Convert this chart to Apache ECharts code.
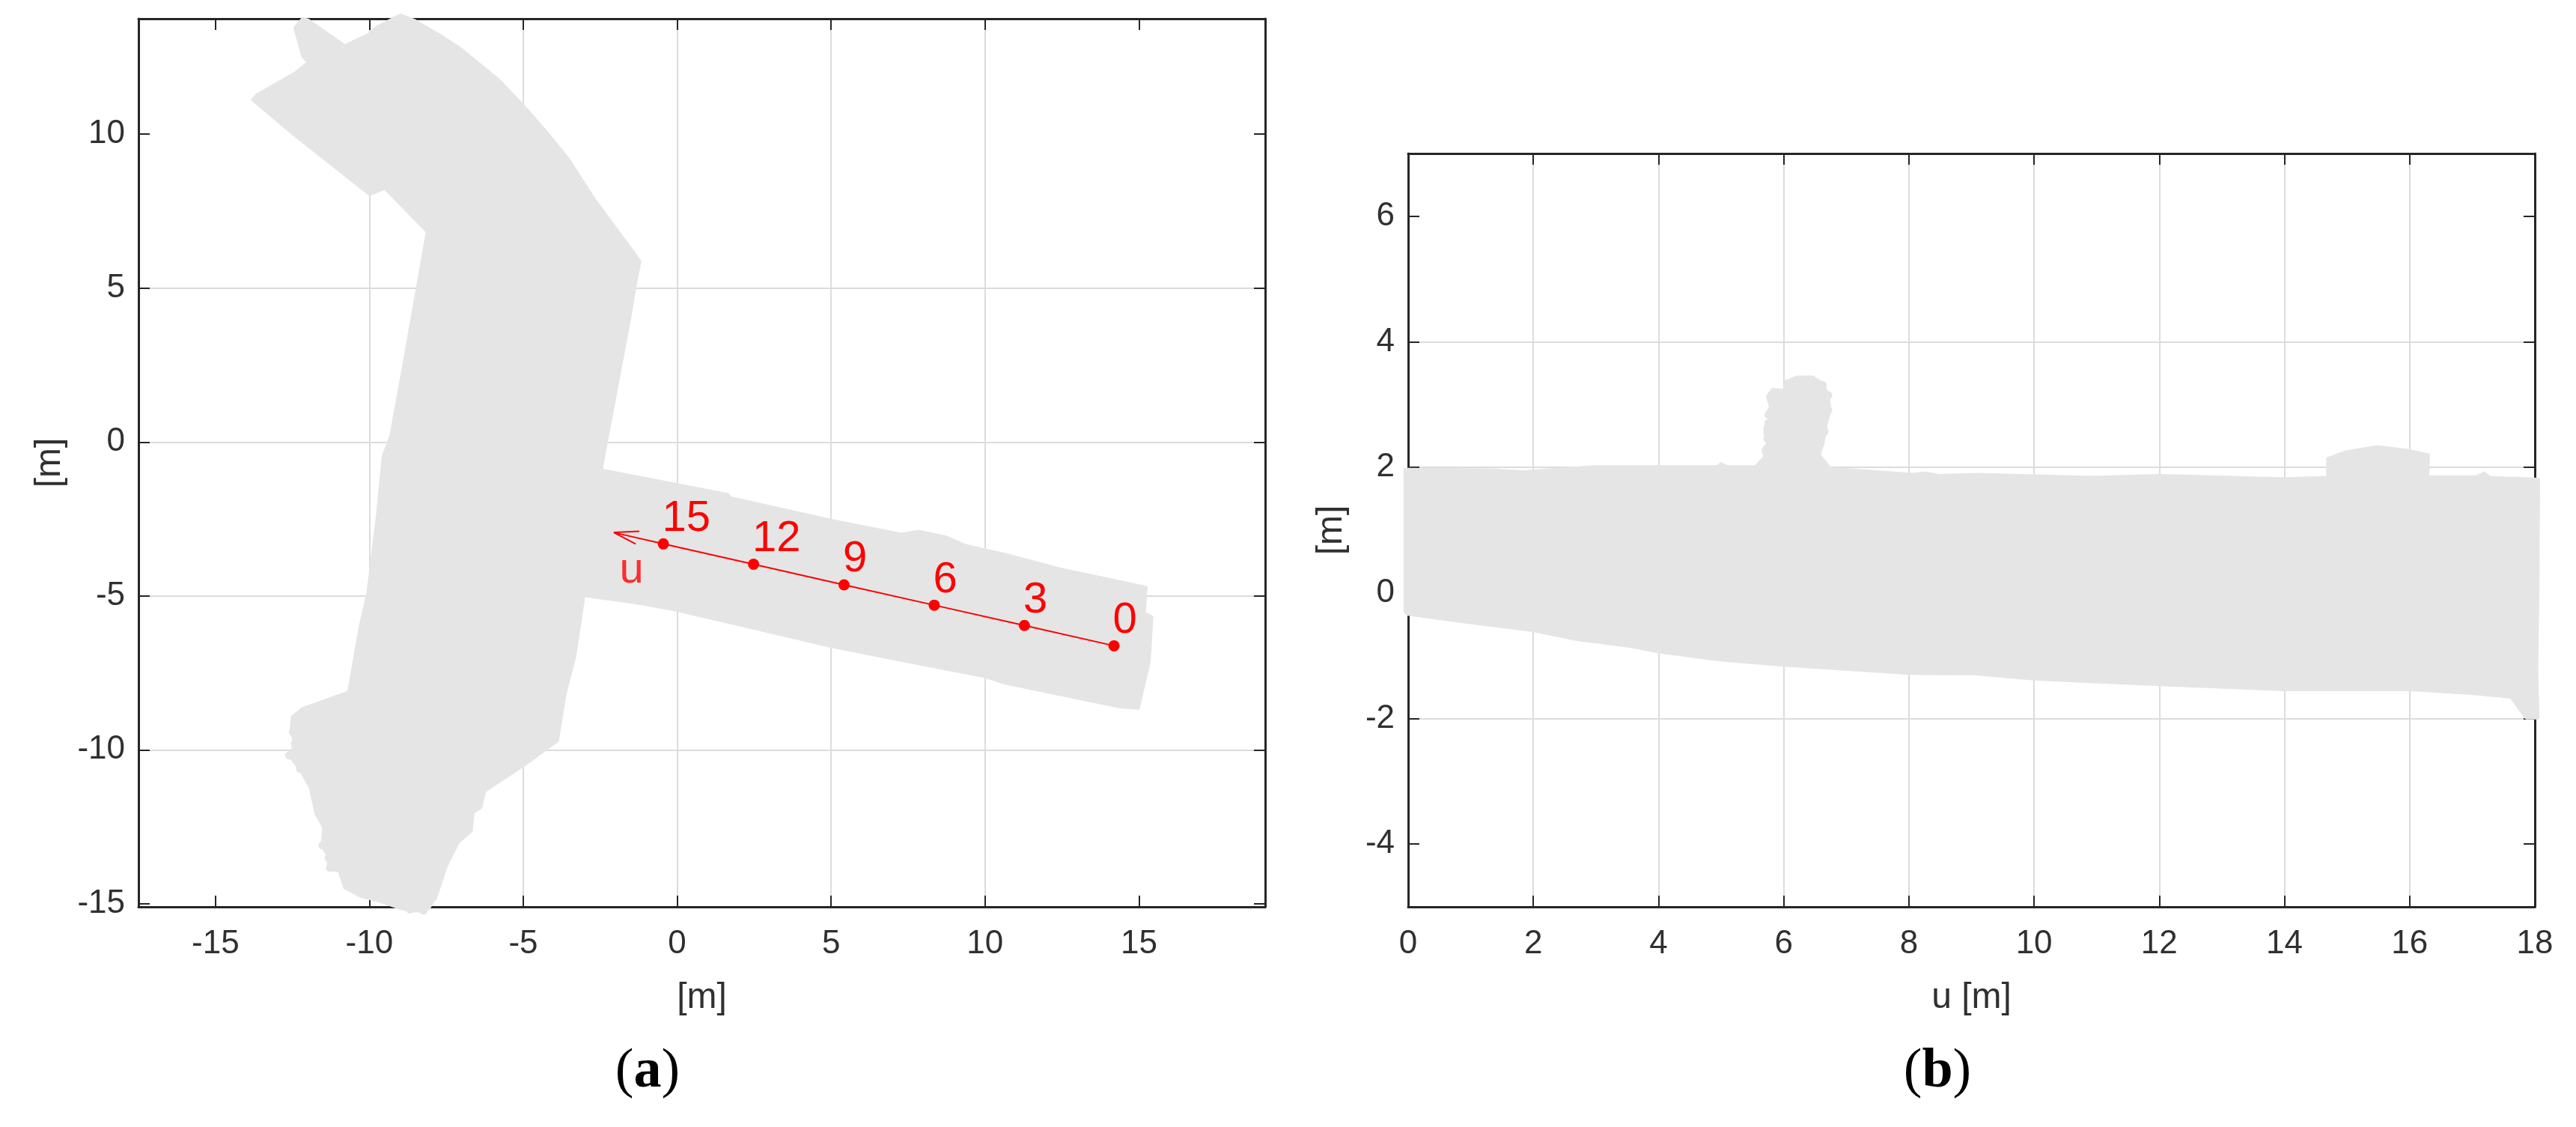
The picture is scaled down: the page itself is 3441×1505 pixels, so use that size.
<!DOCTYPE html>
<html>
<head>
<meta charset="utf-8">
<title>Point cloud views</title>
<script src="https://cdn.jsdelivr.net/npm/echarts@6/dist/echarts.min.js"></script>
<style>
  html, body { margin: 0; padding: 0; background: #fff; }
  #chart { width: 3441px; height: 1505px; }
</style>
</head>
<body>
<div id="chart"></div>
<script>
// tick labels
const planXTicks = [-15, -10, -5, 0, 5, 10, 15];
const planYTicks = [-15, -10, -5, 0, 5, 10];
const sideXTicks = [0, 2, 4, 6, 8, 10, 12, 14, 16, 18];
const sideYTicks = [-4, -2, 0, 2, 4, 6];

// outline of the point cloud seen from above, [x, y] in metres
const planOutline = [
  [-12.42, 13.45], [-12.17, 13.75], [-11.98, 13.7], [-10.8, 12.87], [-10.02, 13.24], [-9.74, 13.49],
  [-8.99, 13.87], [-8.55, 13.7], [-7.68, 13.19], [-7.06, 12.79], [-5.82, 11.78], [-5, 10.92],
  [-4.2, 10.01], [-3.51, 9.15], [-2.7, 7.89], [-1.21, 5.87], [-1.39, 4.96], [-1.52, 4.15],
  [-2.45, -0.8], [-2.45, -0.91], [1.63, -1.7], [1.75, -1.82], [5.04, -2.55], [7.28, -3],
  [7.84, -2.9], [8.71, -3.08], [9.39, -3.37], [10.63, -3.65], [12.5, -4.14], [15.23, -4.72],
  [15.17, -5.56], [15.42, -5.68], [15.33, -7.14], [14.98, -8.65], [14.36, -8.6], [10.63, -7.83],
  [10.01, -7.62], [7.53, -7.14], [5.04, -6.65], [1.94, -5.92], [0, -5.47], [-1.17, -5.25],
  [-3.03, -4.99], [-3.33, -6.98], [-3.64, -8.17], [-3.89, -9.7], [-5, -10.51], [-6.25, -11.33],
  [-6.38, -11.87], [-6.63, -12.03], [-6.69, -12.63], [-7.12, -13.01], [-7.5, -13.77], [-7.81, -14.7],
  [-8.06, -15.13], [-8.24, -15.24], [-8.68, -15.22], [-9.05, -15.13], [-9.68, -14.91], [-10.3, -14.75],
  [-10.8, -14.48], [-10.98, -13.93], [-11.36, -13.88], [-11.3, -13.5], [-11.54, -13.12], [-11.48, -12.52],
  [-11.73, -12.09], [-11.92, -11.22], [-12.23, -10.67], [-12.6, -10.18], [-12.42, -9.8], [-12.54, -9.37],
  [-12.5, -8.93], [-12.17, -8.66], [-10.67, -8.12], [-10.3, -6], [-10.05, -4.91], [-9.74, -2.41],
  [-9.55, -0.46], [-9.3, 0.21], [-8.93, 2.23], [-8.68, 3.65], [-8.43, 5.06], [-8.12, 6.83],
  [-9.49, 8.24], [-9.99, 8.04], [-12.48, 10.01], [-13.79, 11.12], [-13.66, 11.27], [-12.42, 11.98],
  [-11.98, 12.33], [-12.17, 12.54]
];

// single returns sticking out of the plan outline
const planStray = [
  [-12.6, -10.18], [-12.42, -9.8], [-12.25, -10.62], [-12.48, -9.42], [-11.61, -12.09], [-11.52, -13.1],
  [-11.32, -13.52], [-11.27, -13.83], [-7.93, -14.8], [-8.24, -15.22], [-8.68, -15.18]
];

// outline of the same cloud seen along the u axis, [u, height] in metres
const sideOutline = [
  [-0.05, 1.97], [1.34, 1.96], [1.83, 1.93], [2.99, 2.01], [4.94, 2.01], [5, 2.06], [5.09, 2.01],
  [5.55, 2.01], [5.7, 2.17], [5.67, 2.28], [5.76, 2.41], [5.7, 2.54], [5.72, 2.73], [5.79, 2.78],
  [5.73, 2.84], [5.79, 2.97], [5.74, 3.13], [5.82, 3.24], [6.01, 3.23], [6.04, 3.37], [6.22, 3.44],
  [6.46, 3.44], [6.62, 3.34], [6.71, 3.15], [6.74, 2.91], [6.68, 2.7], [6.65, 2.49], [6.57, 2.2],
  [6.74, 1.98], [7.2, 1.95], [8.05, 1.89], [8.26, 1.91], [8.48, 1.87], [9.07, 1.89], [9.81, 1.87],
  [10.91, 1.84], [12, 1.87], [14, 1.82], [14.69, 1.84], [14.69, 2.14], [14.96, 2.24], [15.48, 2.33],
  [15.97, 2.27], [16.3, 2.2], [16.29, 1.85], [17.07, 1.85], [17.19, 1.91], [17.28, 1.84], [18.06, 1.81],
  [18.05, 0.13], [18.03, -1.26], [18.05, -1.99], [17.86, -1.99], [17.62, -1.66], [17, -1.6], [16, -1.54],
  [14.57, -1.54], [14, -1.54], [12, -1.46], [10, -1.37], [9.08, -1.29], [8, -1.28], [6, -1.15],
  [5, -1.07], [4, -0.94], [3.54, -0.85], [2.68, -0.74], [2, -0.6], [1.04, -0.48], [0, -0.34], [-0.05, -0.3]
];

// returns on the edge of the tree-like bump at u = 6
const sideStray = [
  [5.79, 3.13], [5.76, 2.84], [5.74, 2.62], [5.74, 2.46], [6.71, 3.15], [6.71, 2.91],
  [6.65, 2.57], [6.59, 2.38], [6.62, 3.31], [6.43, 3.39], [6.25, 3.36], [6.09, 3.34]
];

// the u axis drawn on the plan view
const uMarks = [0, 3, 6, 9, 12, 15];
const uMarkX = [14.19, 11.28, 8.35, 5.42, 2.48, -0.45];
const uMarkY = [-6.62, -5.96, -5.3, -4.64, -3.97, -3.31];
const uArrow = [[-0.45, -3.31], [-2.06, -2.94], [-1.23, -2.9], [-2.06, -2.94], [-1.35, -3.31]];
const uNameAt = [[-1.48, -4.18]];

const FONT = '"Liberation Sans", Arial, sans-serif';
const TEXT = '#303030';
const GREY = '#e5e5e5';
const RED = '#ff0000';

function outlineSeries(outline, axisIndex) {
  return {
    type: 'custom',
    xAxisIndex: axisIndex,
    yAxisIndex: axisIndex,
    silent: true,
    data: outline,
    encode: { x: 0, y: 1 },
    renderItem: function (params, api) {
      if (params.dataIndex !== 0) return null;
      return {
        type: 'polygon',
        shape: { points: outline.map(p => api.coord(p)) },
        style: { fill: GREY, stroke: GREY, lineWidth: 4, lineJoin: 'round' }
      };
    }
  };
}

function straySeries(points, axisIndex) {
  return {
    type: 'scatter',
    xAxisIndex: axisIndex,
    yAxisIndex: axisIndex,
    silent: true,
    clip: false,
    data: points,
    symbolSize: 11,
    itemStyle: { color: GREY, opacity: 1 }
  };
}

function mainAxis(pos, min, max, step, ticks, name, gap, labelMargin) {
  return {
    type: 'value',
    position: pos,
    min: min,
    max: max,
    minInterval: step,
    maxInterval: step,
    name: name,
    nameLocation: 'middle',
    nameGap: gap,
    nameRotate: pos === 'left' ? 90 : 0,
    nameTextStyle: { fontFamily: FONT, fontSize: 48, color: TEXT },
    axisLine: { show: true, onZero: false, lineStyle: { color: '#262626', width: 3 } },
    axisTick: { show: true, inside: true, length: 15, customValues: ticks, lineStyle: { color: '#262626', width: 2 } },
    axisLabel: { customValues: ticks, margin: labelMargin, fontFamily: FONT, fontSize: 44, color: TEXT },
    splitLine: { show: true, showMinLine: false, showMaxLine: false, lineStyle: { color: '#dcdcdc', width: 2 } }
  };
}

function boxAxis(pos, min, max, step, ticks) {
  return {
    type: 'value',
    position: pos,
    min: min,
    max: max,
    minInterval: step,
    maxInterval: step,
    axisLine: { show: true, onZero: false, lineStyle: { color: '#262626', width: 3 } },
    axisTick: { show: true, inside: true, length: 15, customValues: ticks, lineStyle: { color: '#262626', width: 2 } },
    axisLabel: { show: false },
    splitLine: { show: false }
  };
}

const chart = echarts.init(document.getElementById('chart'));
chart.setOption({
  animation: false,
  backgroundColor: '#fff',
  title: [
    {
      text: '({b|a})', left: 860, top: 1390, textAlign: 'center',
      textStyle: { fontFamily: '"Liberation Serif", serif', fontSize: 74, fontWeight: 'normal', color: '#000',
        rich: { b: { fontFamily: '"Liberation Serif", serif', fontSize: 74, fontWeight: 'bold', color: '#000' } } }
    },
    {
      text: '({b|b})', left: 2583, top: 1390, textAlign: 'center',
      textStyle: { fontFamily: '"Liberation Serif", serif', fontSize: 74, fontWeight: 'normal', color: '#000',
        rich: { b: { fontFamily: '"Liberation Serif", serif', fontSize: 74, fontWeight: 'bold', color: '#000' } } }
    }
  ],
  grid: [
    { left: 185, top: 25, width: 1505, height: 1186 },
    { left: 1881, top: 205, width: 1505, height: 1006 }
  ],
  xAxis: [
    Object.assign(mainAxis('bottom', -17.5, 19.1, 5, planXTicks, '[m]', 98, 28), { gridIndex: 0 }),
    Object.assign(boxAxis('top', -17.5, 19.1, 5, planXTicks), { gridIndex: 0 }),
    Object.assign(mainAxis('bottom', 0, 18, 2, sideXTicks, 'u [m]', 98, 28), { gridIndex: 1 }),
    Object.assign(boxAxis('top', 0, 18, 2, sideXTicks), { gridIndex: 1 })
  ],
  yAxis: [
    Object.assign(mainAxis('left', -15.1, 13.75, 5, planYTicks, '[m]', 94, 18), { gridIndex: 0 }),
    Object.assign(boxAxis('right', -15.1, 13.75, 5, planYTicks), { gridIndex: 0 }),
    Object.assign(mainAxis('left', -5, 7, 2, sideYTicks, '[m]', 78, 18), { gridIndex: 1 }),
    Object.assign(boxAxis('right', -5, 7, 2, sideYTicks), { gridIndex: 1 })
  ],
  series: [
    outlineSeries(planOutline, 0),
    straySeries(planStray, 0),
    outlineSeries(sideOutline, 2),
    straySeries(sideStray, 2),
    {
      type: 'line',
      xAxisIndex: 0,
      yAxisIndex: 0,
      silent: true,
      z: 4,
      data: uArrow,
      symbol: 'none',
      lineStyle: { color: RED, width: 2 }
    },
    {
      type: 'line',
      xAxisIndex: 0,
      yAxisIndex: 0,
      silent: true,
      z: 5,
      data: uMarks.map((m, i) => ({ value: [uMarkX[i], uMarkY[i]], name: String(m) })),
      symbol: 'circle',
      symbolSize: 15,
      itemStyle: { color: RED },
      lineStyle: { color: RED, width: 2 },
      label: {
        show: true,
        position: [6, -26],
        align: 'left',
        verticalAlign: 'middle',
        formatter: '{b}',
        fontFamily: FONT,
        fontSize: 58,
        color: RED
      }
    },
    {
      type: 'scatter',
      xAxisIndex: 0,
      yAxisIndex: 0,
      silent: true,
      z: 5,
      data: uNameAt,
      symbolSize: 0,
      label: {
        show: true,
        position: 'inside',
        formatter: 'u',
        fontFamily: FONT,
        fontSize: 58,
        color: RED
      }
    }
  ]
});
</script>
</body>
</html>
